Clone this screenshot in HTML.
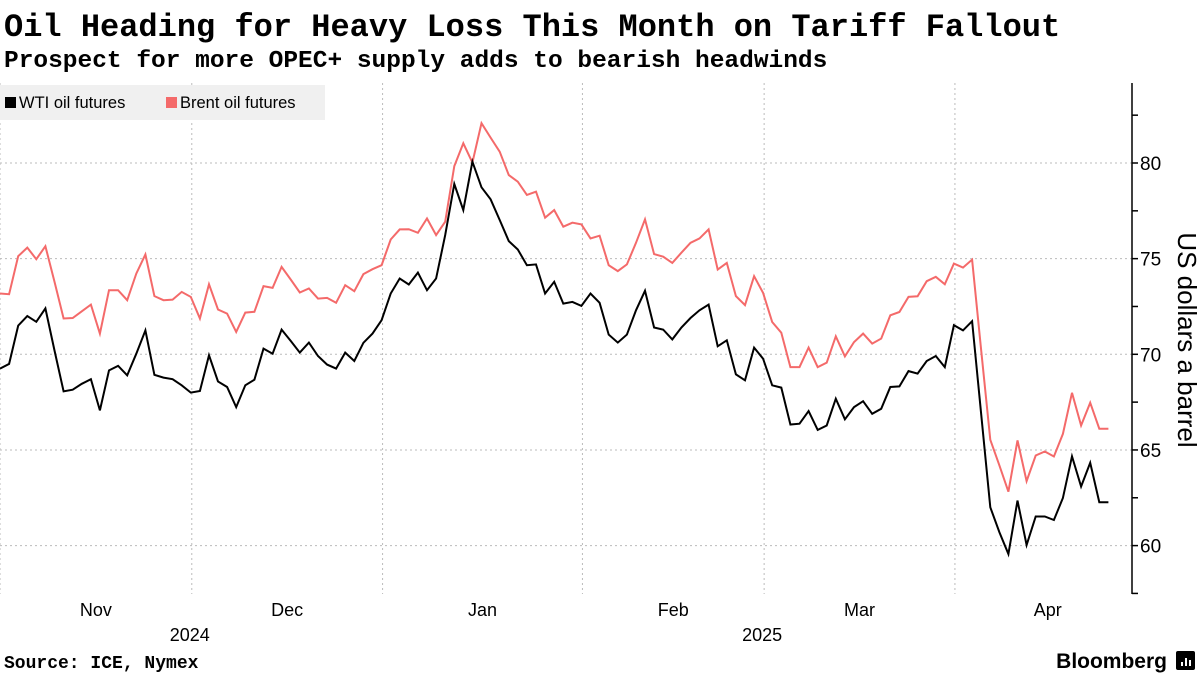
<!DOCTYPE html>
<html><head><meta charset="utf-8"><style>
html,body{margin:0;padding:0;background:#fff;width:1200px;height:675px;overflow:hidden}
svg text{font-family:"Liberation Sans",sans-serif}
.mono{font-family:"Liberation Mono",monospace;font-weight:bold}
</style></head><body>
<svg id="c" width="1200" height="675" xmlns="http://www.w3.org/2000/svg">
<text class="mono" x="4" y="36" font-size="32" fill="#000">Oil Heading for Heavy Loss This Month on Tariff Fallout</text>
<text class="mono" x="4" y="67" font-size="24.5" fill="#000">Prospect for more OPEC+ supply adds to bearish headwinds</text>
<g id="grid"></g>
<g id="legend">
<rect x="0" y="85" width="325" height="35" fill="#f0f0f0"/>
<rect x="5" y="97" width="11" height="11" fill="#000"/>
<text x="19" y="108" font-size="16.5">WTI oil futures</text>
<rect x="166" y="97" width="11" height="11" fill="#f46a6a"/>
<text x="180" y="108" font-size="16.5">Brent oil futures</text>
</g>
<g id="series"></g>
<g id="axis"></g>
<g id="xaxis"></g>
<text x="1185" y="340" font-size="26" text-anchor="middle" transform="rotate(90 1185 340)" dominant-baseline="middle">US dollars a barrel</text>
<text class="mono" x="4" y="668" font-size="18">Source: ICE, Nymex</text>
<text x="1167" y="668" font-size="21" font-weight="bold" text-anchor="end">Bloomberg</text>
<g><rect x="1176" y="651" width="19" height="19" rx="2" fill="#000"/><rect x="1181" y="662" width="2" height="4" fill="#fff"/><rect x="1185" y="658" width="2" height="8" fill="#fff"/><rect x="1189" y="660" width="2" height="6" fill="#fff"/></g>
</svg>
<script>
const wti=[69.25,69.5,71.5,72.0,71.7,72.4,70.2,68.06,68.15,68.46,68.7,67.07,69.16,69.4,68.9,70.03,71.25,68.93,68.78,68.7,68.38,68.0,68.08,69.95,68.58,68.29,67.24,68.38,68.67,70.3,70.03,71.29,70.7,70.09,70.61,69.91,69.46,69.25,70.09,69.65,70.6,71.08,71.78,73.18,73.96,73.65,74.27,73.35,73.96,76.23,78.9,77.54,80.07,78.73,78.1,77.02,75.92,75.48,74.66,74.7,73.18,73.79,72.65,72.74,72.53,73.18,72.69,71.03,70.61,71.03,72.3,73.32,71.4,71.29,70.78,71.4,71.9,72.3,72.6,70.42,70.73,68.95,68.64,70.35,69.77,68.38,68.26,66.33,66.37,67.03,66.05,66.28,67.68,66.6,67.24,67.55,66.89,67.15,68.29,68.32,69.12,68.99,69.65,69.91,69.33,71.52,71.25,71.73,66.86,62.0,60.7,59.56,62.35,60.03,61.52,61.52,61.34,62.49,64.67,63.09,64.33,62.27,62.27];
const brent=[73.18,73.14,75.13,75.58,74.97,75.65,73.79,71.87,71.9,72.25,72.6,71.08,73.35,73.35,72.83,74.22,75.22,73.04,72.83,72.86,73.26,73.0,71.87,73.66,72.34,72.13,71.17,72.18,72.22,73.56,73.47,74.57,73.91,73.23,73.44,72.91,72.95,72.69,73.61,73.3,74.19,74.45,74.66,76.0,76.53,76.54,76.35,77.1,76.23,76.93,79.84,81.03,80.02,82.08,81.33,80.59,79.37,79.02,78.33,78.5,77.14,77.54,76.67,76.88,76.79,76.06,76.2,74.66,74.35,74.7,75.83,77.05,75.24,75.1,74.78,75.31,75.83,76.06,76.53,74.43,74.78,73.04,72.57,74.08,73.21,71.69,71.13,69.33,69.33,70.35,69.33,69.56,70.94,69.89,70.64,71.08,70.56,70.82,72.04,72.21,73.0,73.03,73.82,74.05,73.66,74.74,74.53,74.95,70.2,65.53,64.19,62.82,65.5,63.37,64.71,64.92,64.66,65.84,67.99,66.28,67.47,66.11,66.11];
const yTicks=[60,65,70,75,80];
const yMinor=[57.5,62.5,67.5,72.5,77.5,82.5];
const monthLabels=["Nov","Dec","Jan","Feb","Mar","Apr"];
const monthStartIdx=[0,21,42,64,84,105];
const yearLabels=["2024","2025"];
const yearIdx=[21,84];
const NS="http://www.w3.org/2000/svg";
const DX=9.085;
function x(i){return i*DX;}
function y(v){return 163+(80-v)*19.13;}
function bnd(i){return i===0?0:x(i)+1;}
function mk(tag,attrs,parent){const e=document.createElementNS(NS,tag);for(const k in attrs)e.setAttribute(k,attrs[k]);parent.appendChild(e);return e;}
const grid=document.getElementById('grid'),ax=document.getElementById('axis'),xa=document.getElementById('xaxis'),ser=document.getElementById('series');
yTicks.forEach(v=>{
  const l=mk('line',{x1:0,x2:1132,y1:y(v),y2:y(v),stroke:'#bbb','stroke-dasharray':'2,3','stroke-width':1},grid);
  
  
  const t=mk('line',{x1:1132,x2:1138,y1:y(v),y2:y(v),stroke:'#000','stroke-width':1.5},ax);
  
  
  const tx=mk('text',{x:1140,y:y(v)+7,'font-size':19},ax);tx.textContent=v;
  
  
});
yMinor.forEach(v=>{
  const t=mk('line',{x1:1132,x2:1138,y1:y(v),y2:y(v),stroke:'#000','stroke-width':1.5},ax);
  
  
});
const axl=mk('line',{x1:1132,x2:1132,y1:83,y2:594,stroke:'#000','stroke-width':1.5},ax);


monthLabels.forEach((m,k)=>{
  const bx=bnd(monthStartIdx[k]);
  const l=mk('line',{x1:bx,x2:bx,y1:83,y2:594,stroke:'#bbb','stroke-dasharray':'2,3','stroke-width':1},grid);
  
  
  const nx=k<monthLabels.length-1?bnd(monthStartIdx[k+1]):x(125)+5;
  const t=mk('text',{x:(bx+nx)/2,y:616,'font-size':18,'text-anchor':'middle'},xa);t.textContent=m;
  
  
});
yearLabels.forEach((yl,k)=>{
  const t=mk('text',{x:bnd(yearIdx[k])-2,y:641,'font-size':18,'text-anchor':'middle'},xa);t.textContent=yl;
  
  
});
function line(arr,color,name){
  const p=mk('polyline',{points:arr.map((v,i)=>x(i).toFixed(1)+','+y(v).toFixed(1)).join(' '),fill:'none',stroke:color,'stroke-width':2,'stroke-linejoin':'miter'},ser);
  
  
}
line(brent,'#f46a6a','brent-line');
line(wti,'#000','wti-line');
</script>
</body></html>
